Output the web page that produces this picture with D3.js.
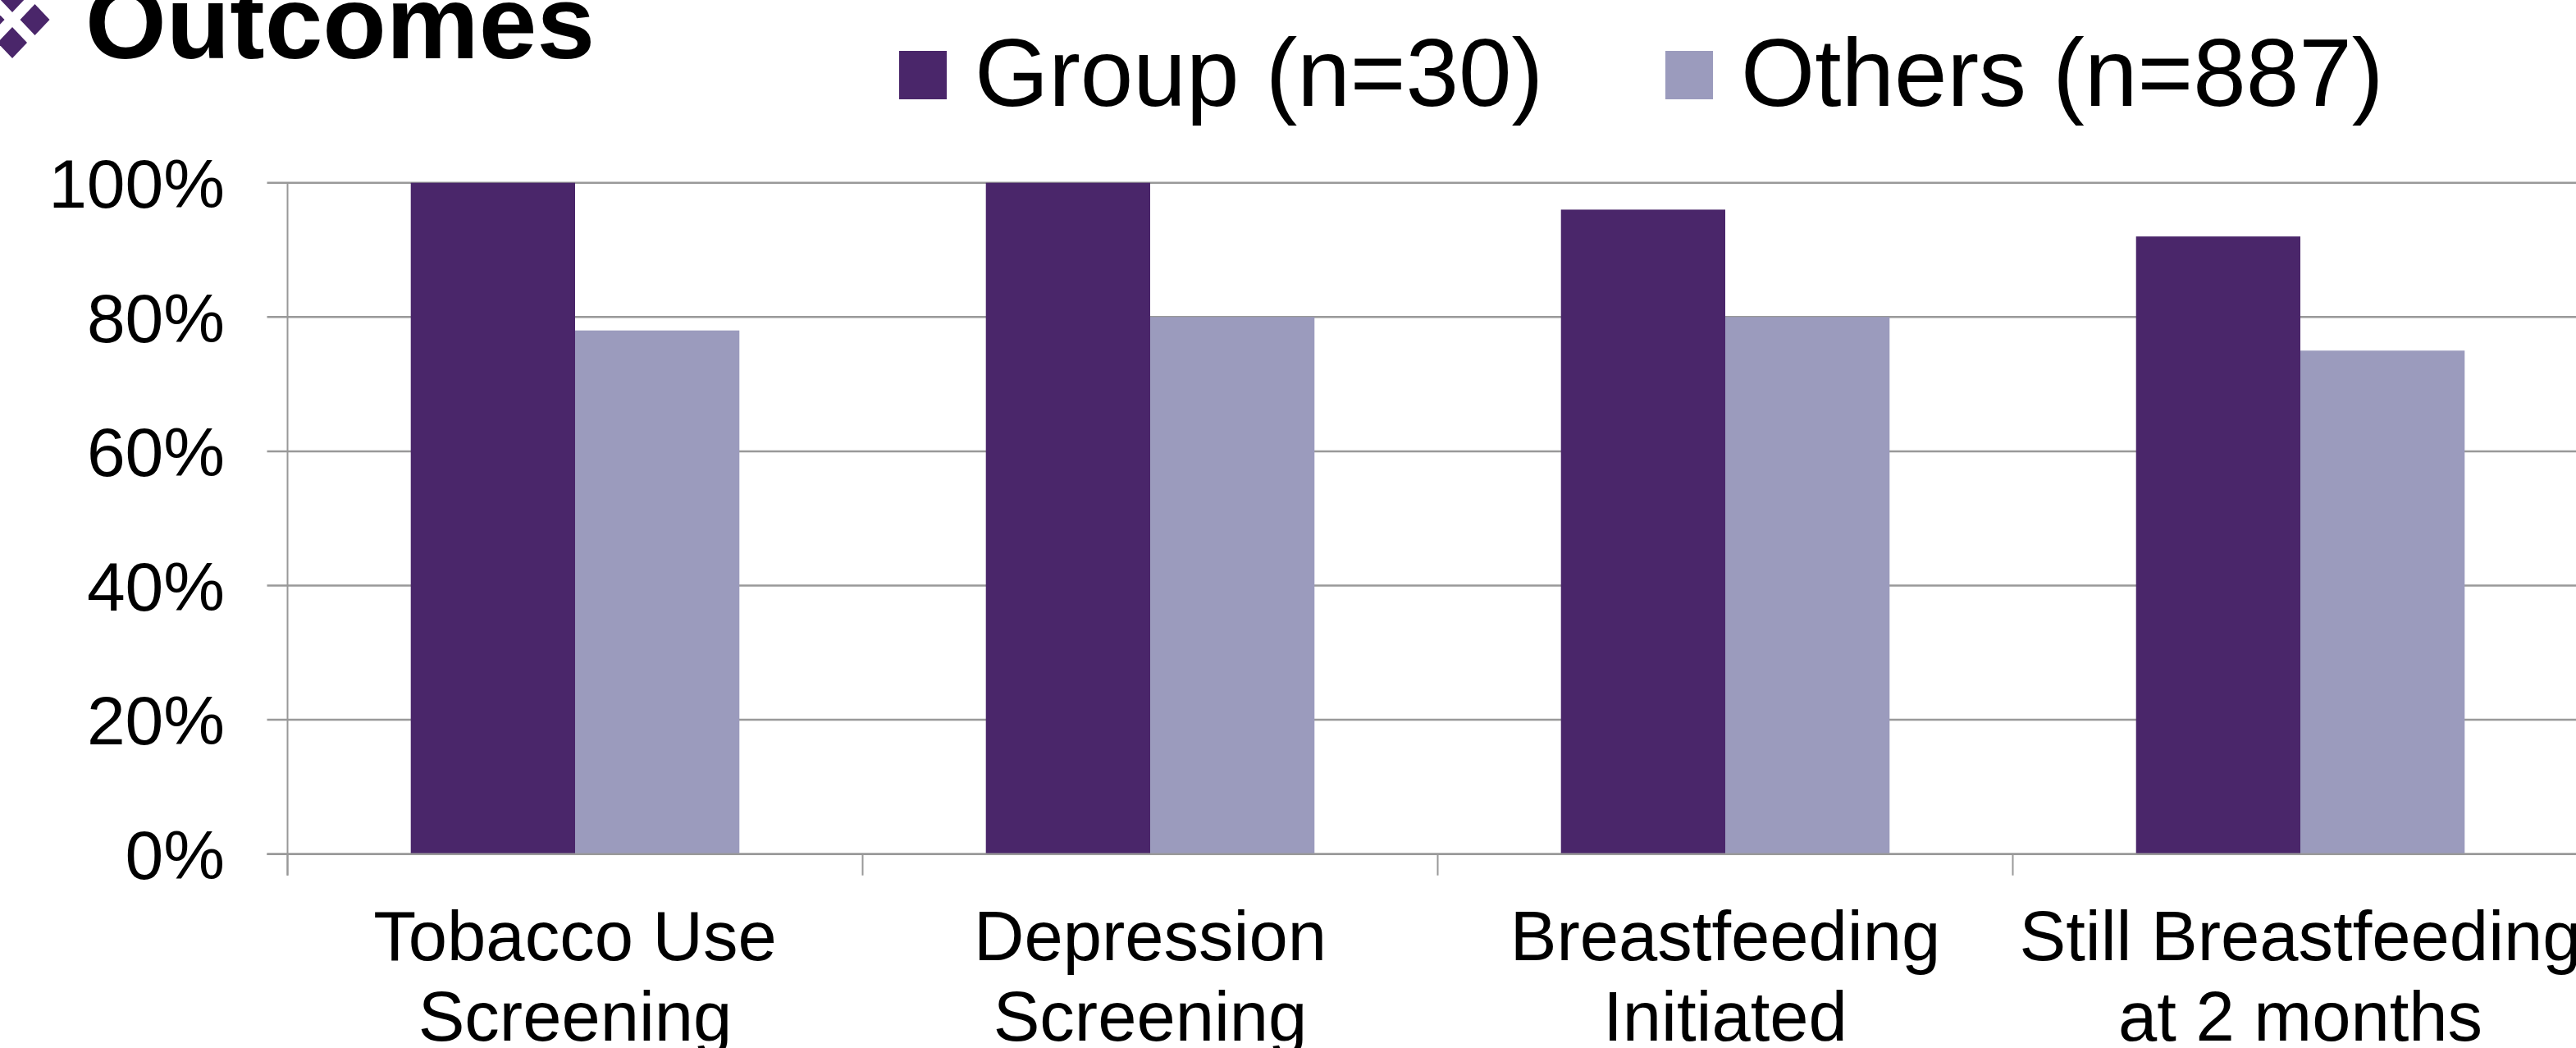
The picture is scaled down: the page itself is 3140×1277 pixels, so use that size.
<!DOCTYPE html>
<html>
<head>
<meta charset="utf-8">
<script src="https://cdn.jsdelivr.net/npm/d3@7"></script>
<style>
  html, body { margin: 0; padding: 0; background: #ffffff; overflow: hidden; }
  svg { display: block; font-family: "Liberation Sans", Arial, sans-serif; }
</style>
</head>
<body>
<svg id="chart" width="3140" height="1277"></svg>
<script>
// ---- data ----
const categories = [
  ["Tobacco Use", "Screening"],
  ["Depression", "Screening"],
  ["Breastfeeding", "Initiated"],
  ["Still Breastfeeding", "at 2 months"]
];
const seriesNames = ["Group (n=30)", "Others (n=887)"];
const groupValues = [1.00, 1.00, 0.96, 0.92];
const othersValues = [0.78, 0.80, 0.80, 0.75];
const yTickValues = [0, 0.2, 0.4, 0.6, 0.8, 1.0];
const titleText = "Outcomes";

// ---- styles ----
const colors = ["#4a266a", "#9b9bbd"];
const gridColor = "#999999";

const W = 3140, H = 1277;
const svg = d3.select("#chart");

const catKeys = categories.map(c => c.join(" "));
const plotLeft = 350.5, catStep = 701;
const x0 = d3.scaleBand().domain(catKeys).range([plotLeft, plotLeft + catStep * catKeys.length]).padding(0);
const x1 = d3.scaleBand().domain(seriesNames).range([0, x0.bandwidth()]).paddingInner(0).paddingOuter(0.75);
const y = d3.scaleLinear().domain([0, 1]).range([1040.7, 222.7]);

const rows = catKeys.map((k, i) => ({ key: k, values: [groupValues[i], othersValues[i]] }));

// gridlines + left ticks
svg.append("g").selectAll("line").data(yTickValues).join("line")
  .attr("x1", plotLeft - 25).attr("x2", W)
  .attr("y1", d => y(d)).attr("y2", d => y(d))
  .attr("stroke", gridColor).attr("stroke-width", 2.5);

// y axis line
svg.append("line")
  .attr("x1", plotLeft).attr("x2", plotLeft)
  .attr("y1", y(1)).attr("y2", y(0) + 26)
  .attr("stroke", gridColor).attr("stroke-width", 2);

// category boundary ticks
svg.append("g").selectAll("line").data(catKeys).join("line")
  .attr("x1", d => x0(d)).attr("x2", d => x0(d))
  .attr("y1", y(0)).attr("y2", y(0) + 26)
  .attr("stroke", gridColor).attr("stroke-width", 2);

// bars
const g = svg.append("g").selectAll("g").data(rows).join("g")
  .attr("transform", d => `translate(${x0(d.key)},0)`);
g.selectAll("rect").data(d => d.values.map((v, j) => ({ name: seriesNames[j], v, j }))).join("rect")
  .attr("x", d => x1(d.name))
  .attr("width", x1.bandwidth())
  .attr("y", d => y(d.v))
  .attr("height", d => y(0) - y(d.v))
  .attr("fill", d => colors[d.j]);

// redraw baseline over bars
svg.append("line")
  .attr("x1", plotLeft - 25).attr("x2", W)
  .attr("y1", y(0)).attr("y2", y(0))
  .attr("stroke", gridColor).attr("stroke-width", 2.5);

// y tick labels
const fmt = d3.format(".0%");
svg.append("g").selectAll("text").data(yTickValues).join("text")
  .attr("x", 274).attr("y", d => y(d))
  .attr("dy", "0.36em")
  .attr("text-anchor", "end")
  .attr("font-size", 84)
  .attr("fill", "#000")
  .text(d => fmt(d));

// category labels
const cl = svg.append("g").selectAll("text").data(categories).join("text")
  .attr("text-anchor", "middle")
  .attr("font-size", 85)
  .attr("fill", "#000")
  .attr("transform", (d, i) => `translate(${x0(catKeys[i]) + x0.bandwidth() / 2},0)`);
cl.selectAll("tspan").data(d => d).join("tspan")
  .attr("x", 0)
  .attr("y", (d, i) => 1170 + i * 98)
  .text(d => d);

// title with diamond icon
const diamonds = [[15, -4], [-12.5, 24], [42.5, 24], [15, 52]];
svg.append("g").selectAll("path").data(diamonds).join("path")
  .attr("d", d => `M${d[0]},${d[1] - 19} L${d[0] + 18},${d[1]} L${d[0]},${d[1] + 19} L${d[0] - 18},${d[1]} Z`)
  .attr("fill", colors[0]);
svg.append("text")
  .attr("x", 104).attr("y", 71)
  .attr("font-size", 127).attr("font-weight", "bold")
  .attr("fill", "#000")
  .text(titleText);

// legend
const legendX = [1096, 2030];
const lg = svg.append("g").selectAll("g").data(seriesNames).join("g")
  .attr("transform", (d, i) => `translate(${legendX[i]},0)`);
lg.append("rect").attr("x", 0).attr("y", 62).attr("width", 58).attr("height", 59)
  .attr("fill", (d, i) => colors[i]);
lg.append("text").attr("x", 92).attr("y", 129)
  .attr("font-size", 116).attr("fill", "#000")
  .text(d => d);
</script>
</body>
</html>
